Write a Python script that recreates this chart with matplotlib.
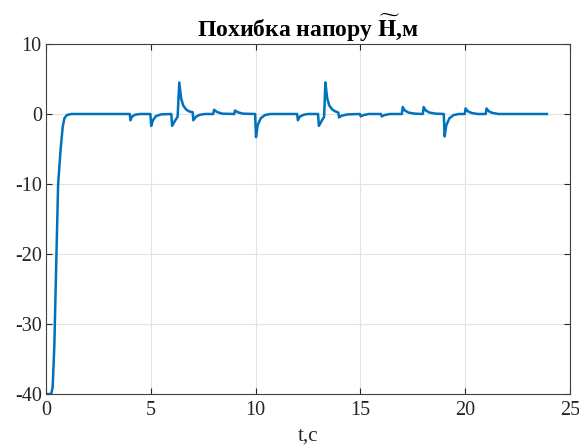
import matplotlib.pyplot as plt

# head error trace: vertices (t, e) of the simulated response
t = [0, 0.25, 0.32, 0.40, 0.50, 0.58, 0.70, 0.80, 0.88, 1.0, 1.2,
     4.0, 4.03, 4.1, 4.25, 4.5,
     4.98, 5.02, 5.1, 5.25, 5.5,
     5.98, 6.02, 6.15, 6.28, 6.36, 6.45, 6.55, 6.7, 6.85, 7.0,
     7.03, 7.15, 7.35, 7.6,
     7.98, 8.02, 8.15, 8.4,
     8.98, 9.02, 9.15, 9.4,
     9.98, 10.02, 10.1, 10.25, 10.45, 10.7,
     11.98, 12.02, 12.1, 12.3, 12.5,
     12.98, 13.02, 13.15, 13.27, 13.33, 13.42, 13.52, 13.67, 13.82, 13.95,
     13.98, 14.1, 14.4,
     14.98, 15.02, 15.15, 15.4,
     15.98, 16.02, 16.15, 16.4,
     16.98, 17.02, 17.12, 17.3, 17.6,
     17.98, 18.02, 18.12, 18.3, 18.6,
     18.98, 19.02, 19.1, 19.25, 19.45, 19.7,
     19.98, 20.02, 20.12, 20.3, 20.6,
     20.98, 21.02, 21.12, 21.3, 21.6,
     23.9]
err = [-40, -40, -39, -33, -20, -10, -5, -1.8, -0.6, -0.15, 0,
       0, -0.9, -0.4, -0.1, 0,
       0, -1.7, -0.9, -0.3, -0.05,
       0, -1.7, -1.0, -0.4, 4.5, 2.2, 1.2, 0.6, 0.35, 0.25,
       -0.9, -0.4, -0.1, 0,
       0, 0.6, 0.3, 0.05,
       0, 0.5, 0.25, 0.05,
       0, -3.3, -1.6, -0.6, -0.15, 0,
       0, -0.9, -0.4, -0.1, 0,
       0, -1.7, -1.0, -0.4, 4.5, 2.2, 1.2, 0.6, 0.35, 0.2,
       -0.5, -0.25, -0.05,
       0, -0.35, -0.15, 0,
       0, -0.35, -0.15, 0,
       0, 1.0, 0.5, 0.2, 0.05,
       0, 1.0, 0.5, 0.2, 0.05,
       0, -3.2, -1.6, -0.6, -0.15, 0,
       0, 0.8, 0.4, 0.15, 0,
       0, 0.8, 0.4, 0.15, 0,
       0]

xticks = [0, 5, 10, 15, 20, 25]
yticks = [-40, -30, -20, -10, 0, 10]

plt.rcParams['font.family'] = ['Liberation Serif', 'DejaVu Serif']
plt.rcParams['mathtext.fontset'] = 'stix'
plt.rcParams['axes.unicode_minus'] = False

fig = plt.figure(figsize=(5.79, 4.48), dpi=100)
ax = fig.add_axes([0.0794, 0.1205, 0.905, 0.7813])

ax.plot(t, err, color='#0072BD', linewidth=1.8, solid_joinstyle='round')

ax.set_xlim(0, 25)
ax.set_ylim(-40, 10)
ax.set_xticks(xticks)
ax.set_yticks(yticks)
ax.grid(True, color='#e3e3e3', linewidth=0.8)
ax.set_axisbelow(True)
ax.tick_params(direction='in', length=4, labelsize=14.5, colors='#262626',
               top=True, right=True, pad=3)
ax.tick_params(axis='x', pad=5)
for s in ax.spines.values():
    s.set_color('#404040')
    s.set_linewidth(0.8)

ax.set_title(r'Похибка напору $\mathbf{\widetilde{H}}$,м', fontsize=17,
             fontweight='bold', pad=5)
ax.set_xlabel('t,c', fontsize=15, color='#262626', labelpad=5)

fig.savefig('out.png', dpi=100)
